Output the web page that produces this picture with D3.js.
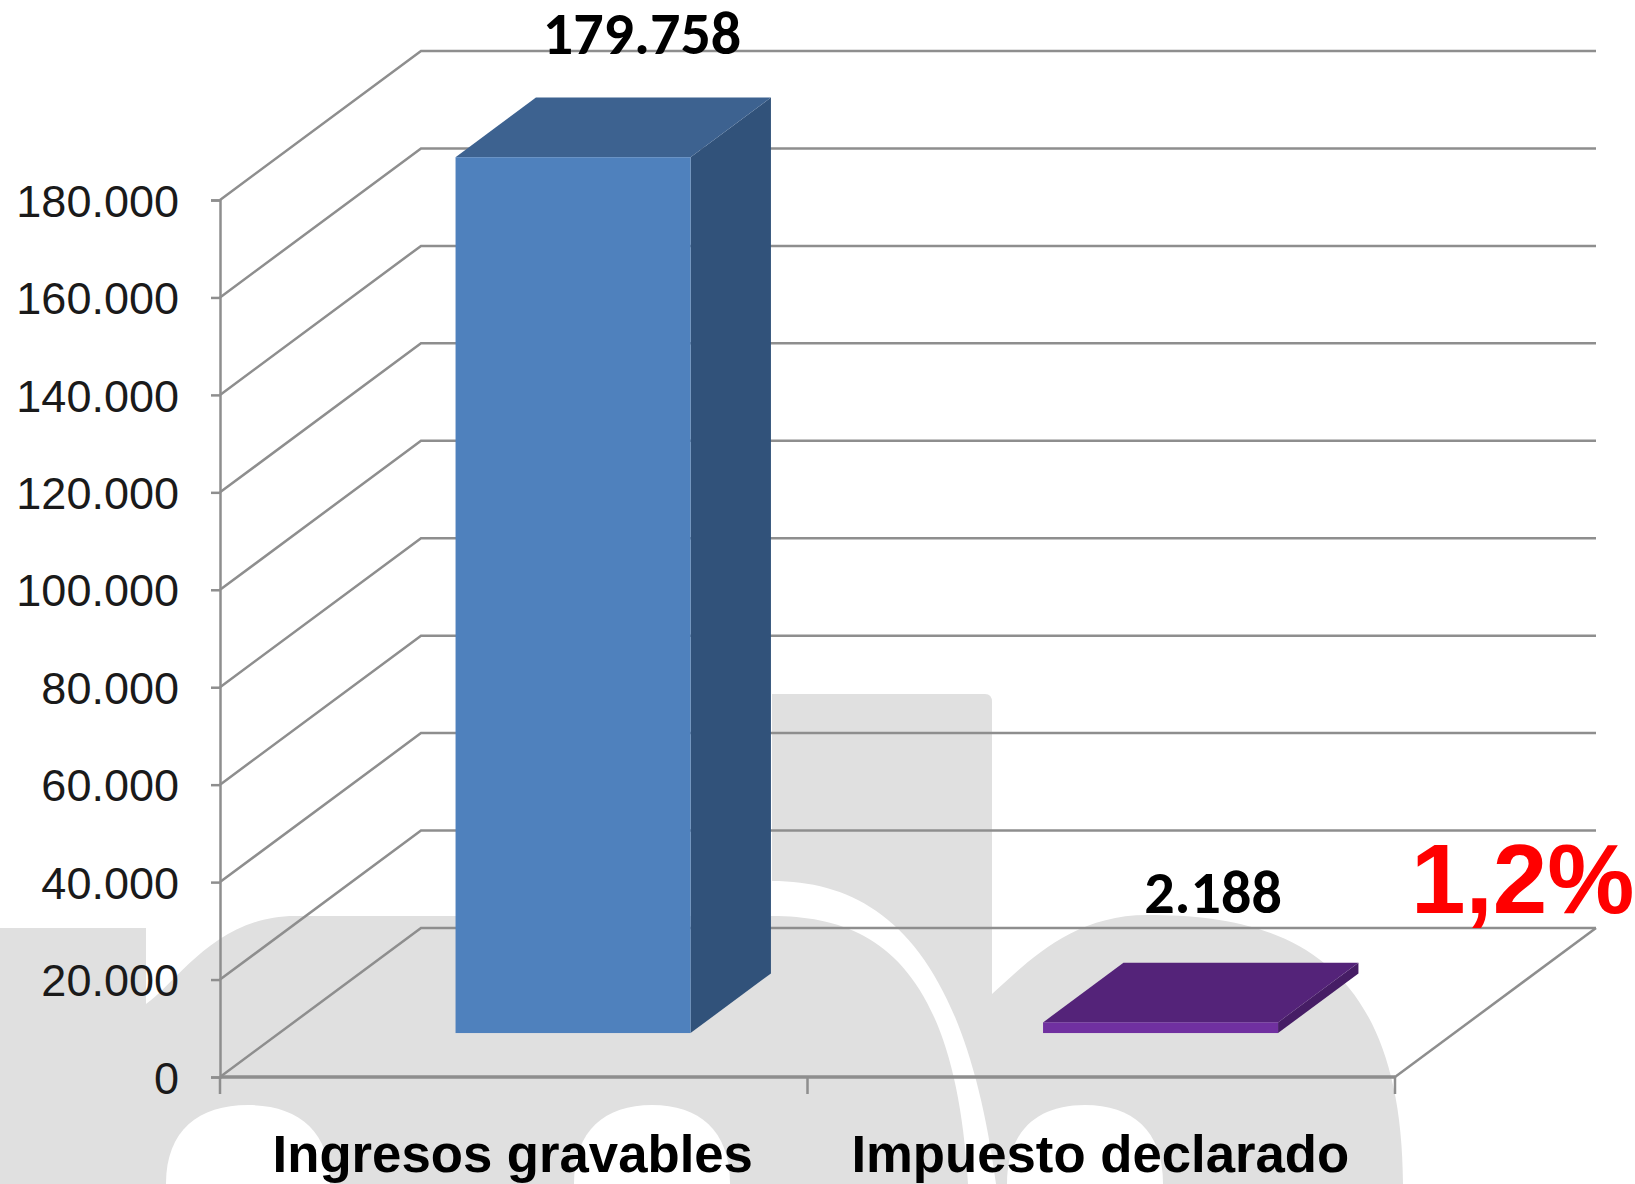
<!DOCTYPE html>
<html>
<head>
<meta charset="utf-8">
<script src="https://cdn.jsdelivr.net/npm/d3@7"></script>
<style>
	html, body { margin: 0; padding: 0; background: #fff; }
	svg { display: block; }
</style>
</head>
<body>
<svg id="chart" width="1635" height="1184"></svg>
<script>
(function(){

	//chart values
	var categories = ["Ingresos gravables", "Impuesto declarado"];
	var values = [179758, 2188];
	var valueLabels = ["179.758", "2.188"];
	var tickValues = [0, 20000, 40000, 60000, 80000, 100000, 120000, 140000, 160000, 180000];
	var note = "1,2%";

	//colours per bar: front, top, side
	var barColors = [
		["#4f81bd", "#3d6290", "#31527a"],
		["#7030a0", "#542379", "#461d65"]
	];
	var gridColor = "#8e8e8e";
	var wmColor = "#e0e0e0";

	//layout
	var depthX = 201, depthY = -149;		//floor depth, front edge to back wall
	var barShift = 0.295, barDepth = 0.4;	//as fractions of the floor depth
	var barWidth = 0.4;						//as fraction of the band

	var svg = d3.select("#chart");
	var x = d3.scaleBand().domain(categories).range([220, 1395]);
	var y = d3.scaleLinear().domain([0, 180000]).range([1077, 200]);

	drawWatermark();
	drawWalls();
	drawAxis();
	drawBars();
	drawLabels();

	//grey logo shape that sits behind the chart
	function drawWatermark(){
		var wm = svg.append("g").attr("fill", wmColor);
		wm.append("path").attr("d",
			"M0,928 L146,928 L146,1004 C175,985 215,916 295,916 L772,916 L772,694 L985,694 Q992,694 992,702 L992,994 " +
			"C1025,965 1070,915 1147,915 C1275,915 1402,950 1403,1184 L0,1184 Z");
		//white cutouts
		wm.append("path").attr("fill", "#fff").attr("d",
			"M772,881 C880,881 965,950 996,1184 L968,1184 C955,960 870,916 772,916 Z");
		[[248, 82], [652, 78], [1085, 78]].forEach(function(a){
			wm.append("path").attr("fill", "#fff").attr("d",
				"M" + (a[0]-a[1]) + ",1184 C" + (a[0]-a[1]) + ",1130 " + (a[0]-a[1]*0.6) + ",1105 " + a[0] + ",1105 C" + (a[0]+a[1]*0.6) + ",1105 " + (a[0]+a[1]) + ",1130 " + (a[0]+a[1]) + ",1184 Z");
		});
	}

	//gridlines on the side wall and the back wall, and the floor
	function drawWalls(){
		var right = x.range()[1] + depthX;
		var left = x.range()[0];
		var g = svg.append("g").attr("fill", "none").attr("stroke", gridColor).attr("stroke-width", 2.5);
		g.selectAll("polyline.grid")
		.data(tickValues)
		.enter()
		.append("polyline")
		.attr("class", "grid")
		.attr("points", function(d){
			return [[left, y(d)], [left + depthX, y(d) + depthY], [right, y(d) + depthY]].join(" ");
		});
		g.append("line")
		.attr("x1", x.range()[1]).attr("y1", y(0))
		.attr("x2", right).attr("y2", y(0) + depthY);
	}

	function drawAxis(){
		var axisY = d3.axisLeft(y)
		.tickValues(tickValues)
		.tickSize(9)
		.tickPadding(32)
		.tickFormat(function(d){ return d3.format(",")(d).replace(/,/g, "."); });
		var gy = svg.append("g").attr("transform", "translate(" + x.range()[0] + ",0)").call(axisY);
		gy.select(".domain").attr("stroke", gridColor).attr("stroke-width", 2.5);
		gy.selectAll(".tick line").attr("stroke", gridColor).attr("stroke-width", 2.5);
		gy.selectAll(".tick text")
		.attr("dy", "0.36em")
		.attr("font-family", "Liberation Sans, Arial, sans-serif")
		.attr("font-size", 45)
		.attr("fill", "#1a1a1a");

		var edges = x.range().concat([x(categories[1])]);
		var gx = svg.append("g").attr("stroke", gridColor).attr("stroke-width", 2.5);
		gx.append("line")
		.attr("x1", x.range()[0]).attr("y1", y(0))
		.attr("x2", x.range()[1]).attr("y2", y(0))
		.attr("stroke-width", 3.5);
		gx.selectAll("line.tick")
		.data(edges)
		.enter()
		.append("line")
		.attr("class", "tick")
		.attr("x1", function(d){ return d; }).attr("x2", function(d){ return d; })
		.attr("y1", y(0)).attr("y2", y(0) + 17);

		svg.append("g").selectAll("text")
		.data(categories)
		.enter()
		.append("text")
		.attr("x", function(d){ return x(d) + x.bandwidth() / 2 - 1; })
		.attr("y", 1172)
		.attr("text-anchor", "middle")
		.attr("font-family", "Liberation Sans, Arial, sans-serif")
		.attr("font-weight", "bold")
		.attr("font-size", 52.7)
		.attr("fill", "#000")
		.text(function(d){ return d; });
	}

	//each bar is a front, a top and a side face, sheared back into the depth
	function drawBars(){
		var sx = depthX * barShift, sy = depthY * barShift;
		var dx = depthX * barDepth, dy = depthY * barDepth;
		var bw = x.bandwidth() * barWidth;
		var bars = svg.append("g").selectAll("g")
		.data(categories)
		.enter()
		.append("g");

		function box(d, i){
			var x0 = x(d) + (x.bandwidth() - bw) / 2 + sx;
			return {x0: x0, x1: x0 + bw, y0: y(0) + sy, y1: y(values[i]) + sy};
		}

		bars.append("polygon")
		.attr("fill", function(d, i){ return barColors[i][2]; })
		.attr("points", function(d, i){
			var b = box(d, i);
			return [[b.x1, b.y0], [b.x1 + dx, b.y0 + dy], [b.x1 + dx, b.y1 + dy], [b.x1, b.y1]].join(" ");
		});
		bars.append("polygon")
		.attr("fill", function(d, i){ return barColors[i][1]; })
		.attr("points", function(d, i){
			var b = box(d, i);
			return [[b.x0, b.y1], [b.x0 + dx, b.y1 + dy], [b.x1 + dx, b.y1 + dy], [b.x1, b.y1]].join(" ");
		});
		bars.append("rect")
		.attr("fill", function(d, i){ return barColors[i][0]; })
		.attr("x", function(d, i){ return box(d, i).x0; })
		.attr("y", function(d, i){ return box(d, i).y1; })
		.attr("width", bw)
		.attr("height", function(d, i){ var b = box(d, i); return b.y0 - b.y1; });
	}

	function drawLabels(){
		var labelY = [54, 913];
		var labelX = [642, 1213];
		svg.append("g").selectAll("text")
		.data(valueLabels)
		.enter()
		.append("text")
		.attr("x", function(d, i){ return labelX[i]; })
		.attr("y", function(d, i){ return labelY[i]; })
		.attr("text-anchor", "middle")
		.attr("font-family", "Carlito, Open Sans, sans-serif")
		.attr("font-weight", "bold")
		.attr("font-size", 60)
		.attr("fill", "#000")
		.text(function(d){ return d; });

		svg.append("text")
		.attr("x", 1411)
		.attr("y", 913)
		.attr("font-family", "Liberation Sans, Arial, sans-serif")
		.attr("font-weight", "bold")
		.attr("font-size", 98)
		.attr("fill", "#ff0000")
		.text(note);
	}

})();
</script>
</body>
</html>
